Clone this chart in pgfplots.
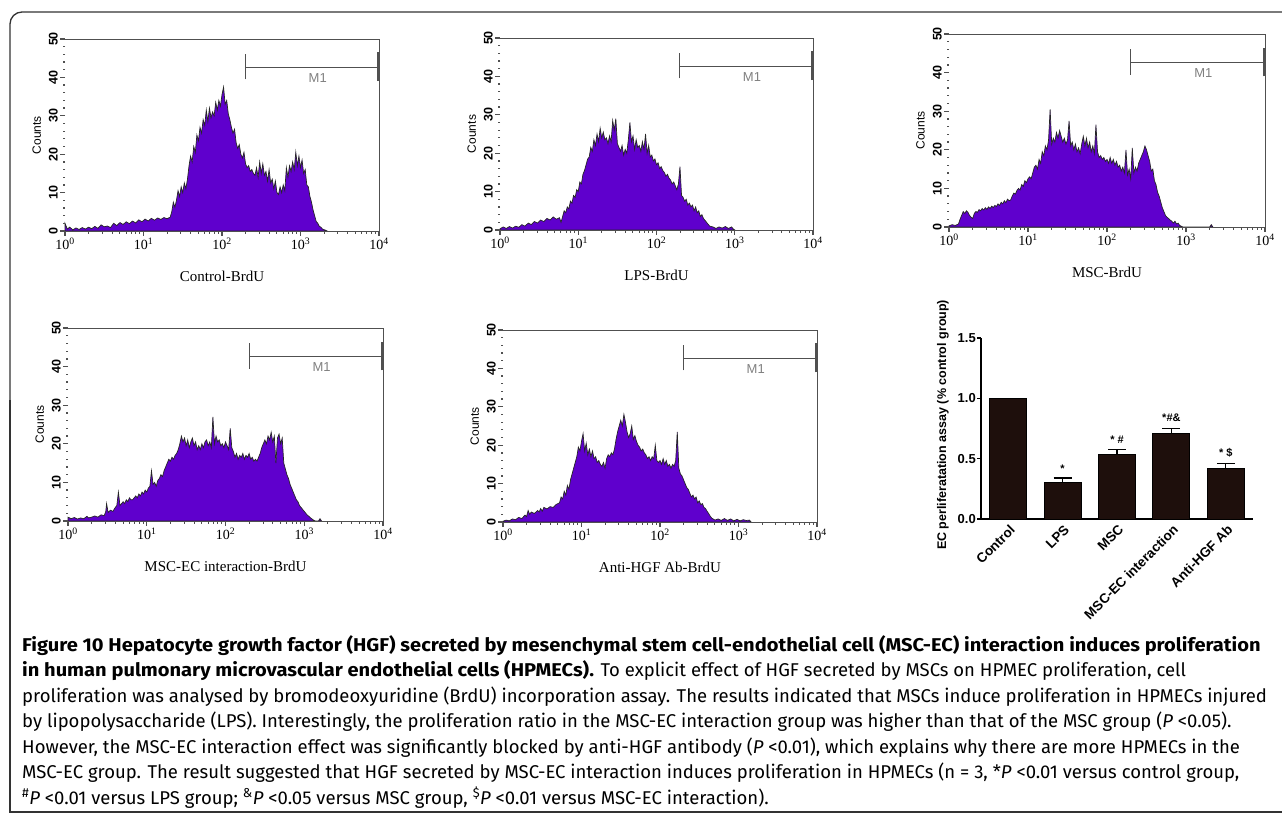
\documentclass[border=0pt]{standalone}
\usepackage{fontspec}
\setmainfont{Liberation Serif}
\setsansfont{Liberation Sans}
\newfontfamily\capfont{Fira Sans}[BoldFeatures={FakeStretch=1.085}]
\usepackage{pgfplots}
\pgfplotsset{compat=1.18}

\definecolor{histpurple}{RGB}{95,0,205}
\definecolor{bardark}{RGB}{30,15,12}
\definecolor{axgray}{RGB}{80,80,80}

\pgfplotsset{
  histo/.style={
    scale only axis, anchor=south west, clip=false,
    xmin=0, xmax=4, ymin=0, ymax=50,
    axis line style={draw=none},
    xtick={0,1,2,3,4},
    xticklabels={10\textsuperscript{0},10\textsuperscript{1},10\textsuperscript{2},10\textsuperscript{3},10\textsuperscript{4}},
    ytick={0,10,20,30,40,50}, yticklabels={0,10,20,30,40,50},
    major tick length=0pt,
    xticklabel shift=5pt, yticklabel shift=6pt,
    xticklabel style={font=\fontsize{14}{16}\selectfont, inner sep=2pt},
    yticklabel style={rotate=90, anchor=south, inner sep=1pt, font=\sffamily\bfseries\fontsize{12.5}{14}\selectfont},
    ylabel={Counts},
    ylabel style={at={(axis description cs:-0.09,0.5)}, anchor=center, font=\sffamily\fontsize{12}{14}\selectfont},
    xlabel style={at={(axis description cs:0.5,-0.235)}, anchor=center, font=\fontsize{15}{18}\selectfont},
  },
  histline/.style={draw=black!85, line width=0.7pt, fill=histpurple},
}

% frame, ticks and M1 gate of a histogram
\newcommand{\gate}{%
  \draw[axgray, line width=1pt] (axis cs:0,50) -- (axis cs:4,50) -- (axis cs:4,0) -- (axis cs:0,0);
  \pgfplotsinvokeforeach{0,1,2,3,4}{\draw[axgray, line width=1.1pt] (axis cs:##1,0) -- ++(0pt,-5pt);}
  \pgfplotsinvokeforeach{0.301,0.477,0.602,0.699,0.778,0.845,0.903,0.954,
                 1.301,1.477,1.602,1.699,1.778,1.845,1.903,1.954,
                 2.301,2.477,2.602,2.699,2.778,2.845,2.903,2.954,
                 3.301,3.477,3.602,3.699,3.778,3.845,3.903,3.954}{%
    \draw[axgray, line width=1pt] (axis cs:##1,0) -- ++(0pt,-3pt);}
  \pgfplotsinvokeforeach{0,10,20,30,40,50}{\draw[axgray, line width=1.1pt] (axis cs:0,##1) -- ++(-5pt,0pt);}
  \pgfplotsinvokeforeach{2,4,6,8,12,14,16,18,22,24,26,28,32,34,36,38,42,44,46,48}{%
    \draw[axgray, line width=1.3pt] (axis cs:0,##1) -- ++(-1.8pt,0pt);}
  \draw[axgray, line width=1pt] (axis cs:2.30,42.7) -- (axis cs:3.99,42.7);
  \draw[axgray, line width=1pt] (axis cs:2.30,39.5) -- (axis cs:2.30,46.0);
  \draw[axgray, line width=1.8pt] (axis cs:3.99,39.0) -- (axis cs:3.99,46.5);
  \node[gray, font=\sffamily\fontsize{13}{14}\selectfont] at (axis cs:3.22,39.9) {M1};
}

\begin{document}
\begin{tikzpicture}
\useasboundingbox (0pt,0pt) rectangle (1282pt,-819pt);

% frame
\draw[black!80, line width=1.3pt] (1282pt,-812pt) -- (10pt,-812pt) -- (10pt,-400pt);
\draw[black!80, line width=1.3pt, rounded corners=12pt] (10pt,-400pt) -- (10pt,-12pt) -- (1282pt,-12pt);

% Control-BrdU
\begin{axis}[histo, at={(65pt,-231pt)}, width=314pt, height=192pt, xlabel={Control-BrdU}]
\addplot[histline] coordinates {
(0,2.0) (0.03,0.5) (0.06,1.0) (0.1,0.3) (0.14,0.8) (0.18,0.4) (0.22,0.9) (0.26,0.5)
(0.3,1.0) (0.34,0.6) (0.38,1.2) (0.42,0.7) (0.46,1.6) (0.5,1.1) (0.54,1.3) (0.58,0.9)
(0.62,2.0) (0.66,1.4) (0.7,2.2) (0.74,1.7) (0.78,2.4) (0.82,1.9) (0.86,2.6) (0.9,2.1)
(0.94,2.9) (0.98,2.4) (1.02,3.1) (1.06,2.6) (1.1,3.3) (1.14,2.8) (1.18,3.4) (1.22,3.0)
(1.26,3.5) (1.3,3.2) (1.34,3.6) (1.36,5.0) (1.38,7.5) (1.40,6.2) (1.42,8.0) (1.44,10.5)
(1.46,9.0) (1.48,11.5) (1.5,10.0) (1.52,12.5) (1.54,11.0) (1.56,13.5) (1.58,17.0) (1.6,19.5)
(1.62,18.0) (1.64,22.0) (1.66,20.5) (1.68,25.0) (1.7,23.5) (1.72,27.0) (1.74,25.5) (1.76,29.0)
(1.78,27.5) (1.8,31.5) (1.82,28.5) (1.84,32.0) (1.86,29.5) (1.88,31.0) (1.9,30.0) (1.92,33.5)
(1.94,31.5) (1.96,34.0) (1.98,32.5) (2.0,35.5) (2.02,37.5) (2.04,33.0) (2.06,34.0) (2.08,30.5)
(2.1,29.0) (2.12,27.0) (2.14,25.5) (2.16,26.5) (2.18,23.0) (2.2,21.5) (2.22,22.5) (2.24,20.0)
(2.26,19.0) (2.28,20.5) (2.3,17.5) (2.32,16.5) (2.34,17.0) (2.36,15.5) (2.38,16.0) (2.4,15.0)
(2.42,14.5) (2.44,16.5) (2.46,14.0) (2.48,18.0) (2.5,15.0) (2.52,17.5) (2.54,14.5) (2.56,15.5)
(2.58,13.0) (2.6,16.0) (2.62,12.5) (2.64,13.5) (2.66,11.0) (2.68,13.0) (2.7,10.0) (2.72,9.5)
(2.74,11.5) (2.76,10.0) (2.78,12.0) (2.8,10.5) (2.82,16.5) (2.84,14.0) (2.86,17.0) (2.88,15.5)
(2.9,18.0) (2.92,16.0) (2.94,20.5) (2.96,17.0) (2.98,19.5) (3.0,16.5) (3.02,18.5) (3.04,15.0)
(3.06,16.0) (3.08,12.0) (3.1,11.5) (3.12,9.0) (3.14,7.5) (3.16,5.5) (3.18,4.0) (3.2,2.5)
(3.22,2.0) (3.24,1.2) (3.26,1.0) (3.28,0.5) (3.32,0.2) (3.34,0)
} \closedcycle;
\gate
\end{axis}

% LPS-BrdU
\begin{axis}[histo, at={(500pt,-230pt)}, width=313pt, height=192pt, xlabel={LPS-BrdU}]
\addplot[histline] coordinates {
(0,0.3) (0.04,0.8) (0.08,0.4) (0.12,0.9) (0.16,0.5) (0.2,1.0) (0.24,0.7) (0.28,1.4)
(0.32,1.0) (0.36,1.8) (0.4,1.4) (0.44,2.2) (0.48,1.8) (0.52,2.6) (0.56,2.2) (0.6,3.0)
(0.64,2.6) (0.68,3.4) (0.72,2.8) (0.76,3.2) (0.78,2.0) (0.8,3.5) (0.82,5.0) (0.84,4.5)
(0.86,6.0) (0.88,5.5) (0.9,7.5) (0.92,7.0) (0.94,9.0) (0.96,8.5) (0.98,10.5) (1.0,10.0)
(1.02,12.5) (1.04,12.0) (1.06,14.5) (1.08,15.5) (1.1,17.0) (1.12,18.5) (1.14,19.0) (1.16,21.5)
(1.18,20.5) (1.2,23.5) (1.22,22.0) (1.24,25.0) (1.26,23.0) (1.28,26.5) (1.3,24.0) (1.32,25.5)
(1.34,23.5) (1.36,24.0) (1.38,22.5) (1.4,24.5) (1.42,23.0) (1.44,28.5) (1.46,26.0) (1.48,29.0)
(1.5,22.5) (1.52,21.5) (1.54,20.5) (1.56,22.0) (1.58,19.5) (1.6,21.0) (1.62,20.0) (1.64,23.5)
(1.66,28.0) (1.68,23.0) (1.7,24.5) (1.72,21.0) (1.74,23.5) (1.76,21.5) (1.78,22.0) (1.8,20.5)
(1.82,23.0) (1.84,21.0) (1.86,25.0) (1.88,20.0) (1.9,22.0) (1.92,19.0) (1.94,19.5) (1.96,18.0)
(1.98,18.5) (2.0,17.0) (2.02,17.5) (2.04,16.0) (2.06,16.5) (2.08,15.5) (2.1,15.0) (2.12,14.0)
(2.14,14.5) (2.16,13.5) (2.18,13.0) (2.2,12.0) (2.22,12.5) (2.24,11.5) (2.26,10.5) (2.28,12.0)
(2.3,16.5) (2.32,9.0) (2.34,8.5) (2.36,7.5) (2.38,8.0) (2.4,6.5) (2.42,7.0) (2.44,6.0)
(2.46,6.5) (2.48,5.0) (2.5,6.0) (2.52,4.5) (2.54,5.0) (2.56,3.5) (2.58,4.0) (2.6,3.0)
(2.62,2.5) (2.64,2.0) (2.66,1.5) (2.68,1.0) (2.72,0.8) (2.76,0.4) (2.8,0.8) (2.84,0.5)
(2.88,0.9) (2.92,0.4) (2.96,0.8) (2.98,0.3) (3.0,0)
} \closedcycle;
\gate
\end{axis}

% MSC-BrdU
\begin{axis}[histo, at={(949pt,-227pt)}, width=316pt, height=193pt, xlabel={MSC-BrdU}]
\addplot[histline] coordinates {
(0,0.3) (0.04,0.6) (0.08,0.4) (0.12,0.8) (0.14,2.0) (0.16,3.0) (0.18,4.0) (0.2,3.5)
(0.22,4.2) (0.24,3.8) (0.26,3.0) (0.28,2.5) (0.3,2.2) (0.32,3.5) (0.34,4.0) (0.36,3.8)
(0.38,4.5) (0.4,4.2) (0.42,4.8) (0.44,4.4) (0.46,5.0) (0.48,4.6) (0.5,5.2) (0.52,4.8)
(0.54,5.4) (0.56,5.0) (0.58,5.6) (0.6,5.3) (0.62,6.0) (0.64,5.6) (0.66,6.4) (0.68,6.0)
(0.7,6.8) (0.72,6.3) (0.74,7.2) (0.76,6.8) (0.78,7.0) (0.8,8.0) (0.82,8.8) (0.84,8.5)
(0.86,9.5) (0.88,10.0) (0.9,9.6) (0.92,11.0) (0.94,10.5) (0.96,12.0) (0.98,11.5) (1.0,12.5)
(1.02,13.0) (1.04,12.5) (1.06,14.0) (1.08,15.5) (1.1,16.0) (1.12,15.0) (1.14,17.5) (1.16,16.5)
(1.18,19.5) (1.2,18.5) (1.22,21.0) (1.24,20.0) (1.26,22.5) (1.28,30.5) (1.3,21.5) (1.32,23.0)
(1.34,22.0) (1.36,24.5) (1.38,23.0) (1.4,25.0) (1.42,23.5) (1.44,22.0) (1.46,23.0) (1.48,21.5)
(1.5,22.5) (1.52,27.5) (1.54,21.0) (1.56,22.0) (1.58,20.0) (1.6,21.5) (1.62,19.5) (1.64,20.5)
(1.66,19.0) (1.68,21.5) (1.7,23.5) (1.72,21.0) (1.74,23.0) (1.76,20.5) (1.78,22.0) (1.8,19.5)
(1.82,21.0) (1.84,19.0) (1.86,26.5) (1.88,19.5) (1.9,18.0) (1.92,18.5) (1.94,17.5) (1.96,18.0)
(1.98,17.0) (2.0,17.5) (2.02,16.5) (2.04,18.0) (2.06,16.5) (2.08,17.5) (2.1,16.0) (2.12,17.0)
(2.14,15.5) (2.16,16.0) (2.18,14.5) (2.2,15.5) (2.22,14.0) (2.24,20.0) (2.26,13.5) (2.28,15.0)
(2.3,12.5) (2.32,20.5) (2.34,14.0) (2.36,15.5) (2.38,14.5) (2.4,16.5) (2.42,17.5) (2.44,18.5)
(2.46,19.5) (2.48,21.0) (2.5,20.0) (2.52,18.5) (2.54,17.0) (2.56,14.5) (2.58,15.0) (2.6,12.0)
(2.62,11.0) (2.64,9.0) (2.66,8.0) (2.68,6.5) (2.7,5.0) (2.72,4.0) (2.74,3.0) (2.76,2.5)
(2.78,2.2) (2.8,1.8) (2.82,1.5) (2.84,1.0) (2.86,1.5) (2.88,0.8) (2.9,1.0) (2.92,0.4)
(2.94,0.2) (2.96,0) (3.3,0) (3.32,0.6) (3.34,0)
} \closedcycle;
\gate
\end{axis}

% MSC-EC interaction-BrdU
\begin{axis}[histo, at={(68pt,-521pt)}, width=315pt, height=193pt, xlabel={MSC-EC interaction-BrdU}]
\addplot[histline] coordinates {
(0,1.0) (0.04,0.6) (0.08,0.9) (0.12,0.5) (0.16,0.8) (0.2,0.6) (0.24,1.2) (0.26,0.8)
(0.3,1.0) (0.34,1.3) (0.38,1.0) (0.42,1.6) (0.46,1.4) (0.48,2.5) (0.49,4.5) (0.51,2.2)
(0.54,2.8) (0.57,2.5) (0.6,3.5) (0.62,4.0) (0.64,7.5) (0.66,4.0) (0.68,4.5) (0.7,5.0)
(0.72,4.5) (0.74,5.5) (0.76,5.0) (0.78,6.0) (0.8,5.5) (0.82,5.5) (0.84,6.0) (0.86,6.5)
(0.88,6.0) (0.9,7.0) (0.92,6.5) (0.94,7.5) (0.96,7.0) (0.98,8.0) (1.0,7.5) (1.02,8.5)
(1.04,9.0) (1.06,13.0) (1.08,9.5) (1.1,10.0) (1.12,9.0) (1.14,10.5) (1.16,11.0) (1.18,12.0)
(1.2,11.5) (1.22,13.0) (1.24,14.0) (1.26,15.0) (1.28,16.0) (1.3,15.5) (1.32,16.5) (1.34,16.0)
(1.36,17.0) (1.38,17.5) (1.4,18.5) (1.42,20.0) (1.44,22.0) (1.46,20.5) (1.48,21.5) (1.5,19.5)
(1.52,21.0) (1.54,19.0) (1.56,20.5) (1.58,21.5) (1.6,19.5) (1.62,20.5) (1.64,18.5) (1.66,19.5)
(1.68,18.5) (1.7,20.0) (1.72,19.0) (1.74,20.5) (1.76,21.0) (1.78,19.5) (1.8,20.5) (1.82,19.0)
(1.84,27.0) (1.86,20.0) (1.88,22.0) (1.9,20.5) (1.92,21.0) (1.94,19.5) (1.96,20.0) (1.98,19.0)
(2.0,20.5) (2.02,19.5) (2.04,18.5) (2.06,24.0) (2.08,19.0) (2.1,18.0) (2.12,16.5) (2.14,17.5)
(2.16,16.0) (2.18,17.0) (2.2,16.5) (2.22,17.5) (2.24,16.0) (2.26,17.0) (2.28,16.5) (2.3,17.5)
(2.32,16.0) (2.34,16.5) (2.36,15.5) (2.38,16.0) (2.4,15.5) (2.42,16.5) (2.44,17.5) (2.46,19.0)
(2.48,20.0) (2.5,21.0) (2.52,20.0) (2.54,22.0) (2.56,21.0) (2.58,23.0) (2.6,20.5) (2.62,22.0)
(2.64,15.0) (2.66,21.5) (2.68,22.5) (2.7,20.0) (2.72,21.5) (2.74,15.0) (2.76,13.5) (2.78,12.0)
(2.8,11.0) (2.82,9.5) (2.84,8.5) (2.86,7.5) (2.88,6.5) (2.9,5.5) (2.92,5.0) (2.94,4.0)
(2.96,3.5) (2.98,3.0) (3.0,2.5) (3.02,2.0) (3.04,1.5) (3.06,1.2) (3.08,0.8) (3.1,0.5)
(3.12,0.2) (3.14,0) (3.18,0) (3.2,0.6) (3.22,0)
} \closedcycle;
\gate
\end{axis}

% Anti-HGF Ab-BrdU
\begin{axis}[histo, at={(503pt,-522pt)}, width=314pt, height=192pt, xlabel={Anti-HGF Ab-BrdU}]
\addplot[histline] coordinates {
(0,0.2) (0.04,0.5) (0.08,0.3) (0.12,0.8) (0.16,0.6) (0.2,1.2) (0.24,0.9) (0.28,1.8)
(0.3,1.4) (0.32,3.0) (0.34,2.0) (0.36,2.6) (0.4,2.2) (0.44,3.0) (0.46,2.6) (0.48,3.5)
(0.5,2.8) (0.52,3.8) (0.56,3.4) (0.6,4.0) (0.64,3.8) (0.68,4.6) (0.72,5.0) (0.74,6.5)
(0.76,6.0) (0.78,8.0) (0.8,7.0) (0.82,9.5) (0.84,8.5) (0.86,11.0) (0.88,12.5) (0.9,14.0)
(0.92,15.5) (0.94,17.0) (0.96,19.5) (0.98,18.5) (1.0,21.0) (1.02,23.0) (1.04,18.5) (1.06,20.5)
(1.08,17.5) (1.1,19.0) (1.12,17.0) (1.14,18.5) (1.16,16.5) (1.18,17.0) (1.2,15.5) (1.22,16.0)
(1.24,15.0) (1.26,14.5) (1.28,15.5) (1.3,14.0) (1.32,16.5) (1.34,17.5) (1.36,17.0) (1.38,18.0)
(1.4,17.5) (1.42,19.0) (1.44,21.5) (1.46,23.5) (1.48,25.0) (1.5,26.5) (1.52,25.0) (1.54,28.0)
(1.56,26.0) (1.58,23.5) (1.6,22.0) (1.62,23.0) (1.64,25.0) (1.66,21.5) (1.68,22.5) (1.7,21.0)
(1.72,20.0) (1.74,19.5) (1.76,18.5) (1.78,19.0) (1.8,18.0) (1.82,17.5) (1.84,16.5) (1.86,17.0)
(1.88,16.0) (1.9,17.0) (1.92,16.5) (1.94,20.0) (1.96,16.0) (1.98,15.5) (2.0,16.0) (2.02,15.0)
(2.04,16.5) (2.06,15.0) (2.08,16.0) (2.1,14.5) (2.12,15.0) (2.14,14.0) (2.16,15.0) (2.18,14.5)
(2.2,16.0) (2.22,23.5) (2.24,14.0) (2.26,12.5) (2.28,12.0) (2.3,11.0) (2.32,10.0) (2.34,9.0)
(2.36,8.5) (2.38,7.5) (2.4,6.5) (2.42,7.0) (2.44,6.0) (2.46,6.5) (2.48,5.0) (2.5,5.5)
(2.52,4.5) (2.54,4.8) (2.56,3.8) (2.58,3.5) (2.6,2.8) (2.62,2.2) (2.64,1.5) (2.66,1.0)
(2.7,0.5) (2.74,0.8) (2.78,0.4) (2.82,0.9) (2.86,0.4) (2.9,0.8) (2.94,0.3) (2.98,0.7)
(3.02,0.3) (3.06,0.6) (3.1,0.4) (3.14,0.5) (3.16,0)
} \closedcycle;
\gate
\end{axis}

% bar chart
\begin{axis}[
  at={(981pt,-519pt)}, anchor=south west, scale only axis,
  width=272pt, height=181pt,
  xmin=-0.5, xmax=4.5, ymin=0, ymax=1.5,
  axis x line=bottom, axis y line=left,
  axis line style={-, black, line width=1.2pt},
  ybar, bar width=37pt,
  xtick={0,1,2,3,4},
  xticklabels={Control,LPS,MSC,MSC-EC interaction,Anti-HGF Ab},
  major x tick style={draw=none},
  x tick label style={rotate=45, anchor=north east, inner sep=1pt, xshift=1pt,
    font=\sffamily\bfseries\fontsize{13.5}{15}\selectfont},
  ytick={0,0.5,1,1.5}, yticklabels={0.0,0.5,1.0,1.5},
  major y tick style={black, line width=1.2pt}, major tick length=4pt, tick align=outside,
  y tick label style={font=\sffamily\bfseries\fontsize{13}{14}\selectfont, inner sep=1pt},
  ylabel={EC perliferatation assay (\% control group)},
  ylabel style={font=\sffamily\bfseries\fontsize{12.5}{14}\selectfont, at={(axis description cs:-0.14,0.52)}, anchor=center},
]
\addplot[fill=bardark, draw=black, line width=1pt,
  error bars/.cd, y dir=plus, y explicit,
  error bar style={black, line width=1.3pt},
  error mark options={rotate=90, mark size=9pt, line width=1.3pt}]
  coordinates {(0,1.0) +- (0,0) (1,0.305) +- (0,0.035) (2,0.538) +- (0,0.04) (3,0.712) +- (0,0.04) (4,0.42) +- (0,0.04)};
\node[font=\sffamily\bfseries\fontsize{11}{12}\selectfont] at (axis cs:1,0.42) {*};
\node[font=\sffamily\bfseries\fontsize{11}{12}\selectfont] at (axis cs:2,0.66) {* \#};
\node[font=\sffamily\bfseries\fontsize{11}{12}\selectfont] at (axis cs:3,0.84) {*\#\&};
\node[font=\sffamily\bfseries\fontsize{11}{12}\selectfont] at (axis cs:4,0.55) {* \$};
\end{axis}

% caption
\begin{scope}[every node/.style={anchor=base west, inner sep=0pt, font=\capfont\fontsize{18.5}{22}\selectfont}]
\node at (22pt,-651pt) {\bfseries Figure 10 Hepatocyte growth factor (HGF) secreted by mesenchymal stem cell-endothelial cell (MSC-EC) interaction induces proliferation};
\node at (22pt,-676.5pt) {\textbf{in human pulmonary microvascular endothelial cells (HPMECs).} To explicit effect of HGF secreted by MSCs on HPMEC proliferation, cell};
\node at (22pt,-702pt) {proliferation was analysed by bromodeoxyuridine (BrdU) incorporation assay. The results indicated that MSCs induce proliferation in HPMECs injured};
\node at (22pt,-727.5pt) {by lipopolysaccharide (LPS). Interestingly, the proliferation ratio in the MSC-EC interaction group was higher than that of the MSC group (\textit{P} <0.05).};
\node at (22pt,-753pt) {However, the MSC-EC interaction effect was significantly blocked by anti-HGF antibody (\textit{P} <0.01), which explains why there are more HPMECs in the};
\node at (22pt,-778.5pt) {MSC-EC group. The result suggested that HGF secreted by MSC-EC interaction induces proliferation in HPMECs (n = 3, *\textit{P} <0.01 versus control group,};
\node at (22pt,-804pt) {\textsuperscript{\#}\textit{P} <0.01 versus LPS group; \textsuperscript{\&}\textit{P} <0.05 versus MSC group, \textsuperscript{\$}\textit{P} <0.01 versus MSC-EC interaction).};
\end{scope}
\end{tikzpicture}
\end{document}
